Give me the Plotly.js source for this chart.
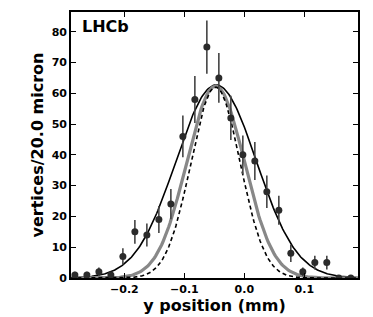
<!DOCTYPE html>
<html>
<head>
<meta charset="utf-8">
<script src="https://cdn.plot.ly/plotly-3.0.1.min.js"></script>
<style>html,body{margin:0;padding:0;background:#fff;}#chart{width:373px;height:317px;}</style>
</head>
<body>
<div id="chart"></div>
<script>
// Bin centres (mm) and counts per 20 micron bin
const binCenters = [-0.2825,-0.2625,-0.2425,-0.2225,-0.2025,-0.1825,-0.1625,-0.1425,-0.1225,-0.1025,-0.0825,-0.0625,-0.0425,-0.0225,-0.0025,0.0175,0.0375,0.0575,0.0775,0.0975,0.1175,0.1375,0.1575,0.1775];
const counts = [1,1,2,1,7,15,14,19,24,46,58,75,65,52,40,38,28,22,8,2,5,5,0,0];

// Gaussian curve parameters: [amplitude, mean (mm), sigma (mm)]
const fitSolid  = [62.7, -0.047, 0.067];
const fitGrey   = [62.3, -0.048, 0.048];
const fitDashed = [62.0, -0.048, 0.041];

const xTicks = [-0.2, -0.1, 0.0, 0.1];
const yTicks = [0,10,20,30,40,50,60,70,80];

function curve(p){
  const xs=[], ys=[];
  for(let i=0;i<=240;i++){
    const x=-0.29+i*0.002;
    xs.push(x);
    ys.push(p[0]*Math.exp(-Math.pow(x-p[1],2)/(2*p[2]*p[2])));
  }
  return {x:xs,y:ys};
}
const cS=curve(fitSolid), cG=curve(fitGrey), cD=curve(fitDashed);

const traces=[
  {x:cS.x,y:cS.y,mode:'lines',line:{color:'#000',width:1.6},hoverinfo:'skip'},
  {x:cG.x,y:cG.y,mode:'lines',line:{color:'#888888',width:3.2},hoverinfo:'skip'},
  {x:cD.x,y:cD.y,mode:'lines',line:{color:'#000',width:1.6,dash:'4px,3px'},hoverinfo:'skip'},
  {x:binCenters,y:counts,mode:'markers',
   marker:{color:'#2b2b2b',size:7},
   error_y:{type:'data',array:counts.map(v=>Math.sqrt(v)),color:'#444',thickness:1.6,width:0},
   cliponaxis:true}
];

const tickFont={family:'DejaVu Sans',size:11,color:'#000',weight:'bold'};
const layout={
  width:373,height:317,
  margin:{l:71,r:15,t:12,b:39},
  paper_bgcolor:'#fff',plot_bgcolor:'#fff',
  showlegend:false,
  xaxis:{range:[-0.289,0.1895],tickvals:xTicks,ticktext:xTicks.map(v=>(v<0?'\u2212':'')+Math.abs(v).toFixed(1)),
    ticks:'inside',ticklen:5,tickcolor:'#000',tickwidth:1,mirror:'ticks',showline:true,linecolor:'#000',linewidth:1.8,
    showgrid:false,zeroline:false,tickfont:tickFont,
    title:{text:'y position (mm)',font:{family:'DejaVu Sans',size:16,color:'#000',weight:'bold'},standoff:3}},
  yaxis:{range:[0,86.4],tickvals:yTicks,
    ticks:'inside',ticklen:5,tickcolor:'#000',tickwidth:1,mirror:'ticks',showline:true,linecolor:'#000',linewidth:1.8,
    showgrid:false,zeroline:false,tickfont:tickFont,
    title:{text:'vertices/20.0 micron',font:{family:'DejaVu Sans',size:16,color:'#000',weight:'bold'},standoff:4}},
  annotations:[{text:'LHCb',xref:'paper',yref:'paper',x:0.031,y:0.947,xanchor:'left',yanchor:'middle',showarrow:false,
    font:{family:'DejaVu Sans',size:16,color:'#000',weight:'bold'}}]
};
Plotly.newPlot('chart',traces,layout,{displayModeBar:false,staticPlot:true});
</script>
</body>
</html>
